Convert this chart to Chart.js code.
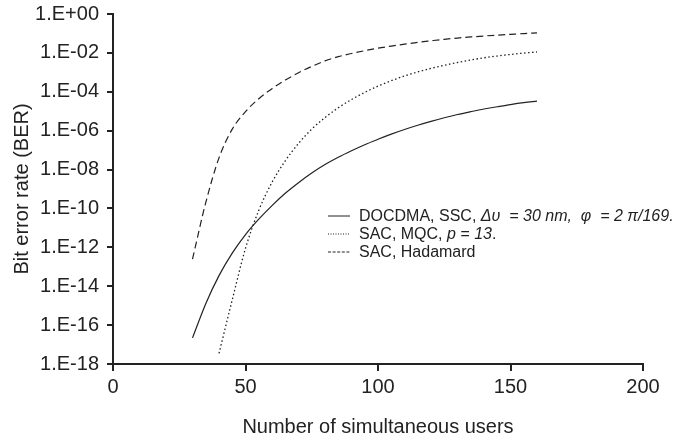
<!DOCTYPE html>
<html>
<head>
<meta charset="utf-8">
<script src="https://cdn.jsdelivr.net/npm/chart.js@4.4.1/dist/chart.umd.min.js"></script>
<style>
    html, body { margin: 0; padding: 0; background: #fff; }
    #wrap { position: relative; width: 686px; height: 440px; }
    #legend {
        position: absolute; left: 328px; top: 207px;
        font: 16px "Liberation Sans", Arial, sans-serif; color: #222;
    }
    .row { height: 18px; display: flex; align-items: center; white-space: nowrap; }
    .row svg { margin-right: 9px; }
</style>
</head>
<body>
<div id="wrap">
    <canvas id="berChart" width="686" height="440"></canvas>
    <div id="legend"></div>
</div>
<script>
// Number of simultaneous users (x values)
const users = [30, 35, 40, 45, 50, 55, 60, 65, 70, 75, 80, 85, 90, 95, 100,
    105, 110, 115, 120, 125, 130, 135, 140, 145, 150, 155, 160];

// BER
const berDocdma = [2.2e-17, 1.26e-15, 3.5e-14, 5.0e-13, 4.5e-12, 2.8e-11, 1.4e-10, 6.0e-10, 2.1e-9,
    6.6e-9, 1.8e-8, 4.3e-8, 9.3e-8, 1.9e-7, 3.6e-7, 6.6e-7, 1.15e-6, 1.9e-6, 3.0e-6,
    4.6e-6, 6.8e-6, 9.5e-6, 1.3e-5, 1.7e-5, 2.2e-5, 2.75e-5, 3.3e-5];
const berMqc = [null, null, 3.5e-18, 2.0e-15, 8.9e-13, 7.9e-11, 2.2e-9, 2.8e-8, 2.2e-7,
    1.2e-6, 4.7e-6, 1.5e-5, 4.0e-5, 9.3e-5, 1.95e-4, 3.7e-4, 6.5e-4, 1.05e-3, 1.6e-3,
    2.3e-3, 3.2e-3, 4.3e-3, 5.6e-3, 6.9e-3, 8.3e-3, 9.8e-3, 1.12e-2];
const berHadamard = [2.5e-13, 2.0e-10, 4.0e-8, 1.2e-6, 9.5e-6, 4.4e-5, 1.45e-4, 4.0e-4, 9.5e-4,
    2.0e-3, 3.9e-3, 6.4e-3, 9.3e-3, 1.3e-2, 1.74e-2, 2.24e-2, 2.8e-2, 3.5e-2, 4.2e-2,
    5.0e-2, 5.8e-2, 6.6e-2, 7.4e-2, 8.2e-2, 9.0e-2, 9.9e-2, 1.07e-1];

// Legend texts (italic parts as in the figure)
const seriesLabels = [
    'DOCDMA, SSC, <i>&Delta;&upsilon; &nbsp;= 30 nm, &nbsp;&phi; &nbsp;= 2 &pi;/169.</i>',
    'SAC, MQC, <i>p = 13</i>.',
    'SAC, Hadamard'
];

// Tick values and labels
const xTickValues = [0, 50, 100, 150, 200];
const yTickValues = [1, 1e-2, 1e-4, 1e-6, 1e-8, 1e-10, 1e-12, 1e-14, 1e-16, 1e-18];
const yTickLabels = ['1.E+00', '1.E-02', '1.E-04', '1.E-06', '1.E-08', '1.E-10',
    '1.E-12', '1.E-14', '1.E-16', '1.E-18'];

const axisFont = { family: '"Liberation Sans", Arial, sans-serif', size: 20 };
const ink = '#222';

function toPoints(values) {
    return users.map((u, i) => ({ x: u, y: values[i] }));
}

const lineStyles = [
    { borderDash: [], borderWidth: 1.2 },
    { borderDash: [1.5, 2.5], borderWidth: 1.3 },
    { borderDash: [7, 4], borderWidth: 1.2 }
];
const seriesData = [berDocdma, berMqc, berHadamard];

const config = {
    type: 'line',
    data: {
        datasets: seriesData.map((vals, i) => ({
            label: seriesLabels[i],
            data: toPoints(vals),
            borderColor: ink,
            borderWidth: lineStyles[i].borderWidth,
            borderDash: lineStyles[i].borderDash,
            pointRadius: 0,
            fill: false,
            cubicInterpolationMode: 'monotone',
            spanGaps: false
        }))
    },
    options: {
        responsive: false,
        devicePixelRatio: 1,
        animation: false,
        layout: {
            padding: { top: 14, right: 43, left: 0, bottom: 0 }
        },
        plugins: {
            legend: { display: false },
            tooltip: { enabled: false }
        },
        scales: {
            x: {
                type: 'linear',
                min: 0,
                max: 200,
                afterBuildTicks: (scale) => {
                    scale.ticks = xTickValues.map(v => ({ value: v }));
                },
                afterFit: (scale) => { scale.height = 76; },
                grid: { drawOnChartArea: false, drawTicks: true, tickLength: 7, color: ink, lineWidth: 2 },
                border: { display: true, color: ink, width: 2 },
                ticks: { color: ink, font: axisFont, padding: 4, maxRotation: 0 },
                title: {
                    display: true,
                    text: 'Number of simultaneous users',
                    color: ink,
                    font: axisFont,
                    padding: { top: 0, bottom: 1 }
                }
            },
            y: {
                type: 'logarithmic',
                min: 1e-18,
                max: 1,
                afterBuildTicks: (scale) => {
                    scale.ticks = yTickValues.map(v => ({ value: v }));
                },
                afterFit: (scale) => {
                    // fixed box; let the top label hang over the padding
                    scale.width = 113;
                    scale.paddingTop = 0;
                    scale.paddingBottom = 0;
                },
                grid: { drawOnChartArea: false, drawTicks: true, tickLength: 6, color: ink, lineWidth: 2 },
                border: { display: true, color: ink, width: 2 },
                ticks: {
                    color: ink,
                    font: axisFont,
                    padding: 8,
                    callback: (value) => yTickLabels[yTickValues.indexOf(value)]
                },
                title: {
                    display: true,
                    text: 'Bit error rate (BER)',
                    color: ink,
                    font: axisFont,
                    padding: { top: 10, bottom: 0 }
                }
            }
        }
    }
};

const berChart = new Chart(document.getElementById('berChart'), config);

// HTML legend so the italic parts can be kept
const dashes = ['', '1 1.5', '3 1.6'];
document.getElementById('legend').innerHTML = seriesLabels.map((label, i) =>
    '<div class="row"><svg width="22" height="4"><line x1="0" y1="2" x2="22" y2="2" stroke="' + ink +
    '" stroke-width="1" stroke-dasharray="' + dashes[i] + '"/></svg><span>' + label + '</span></div>'
).join('');
</script>
</body>
</html>
